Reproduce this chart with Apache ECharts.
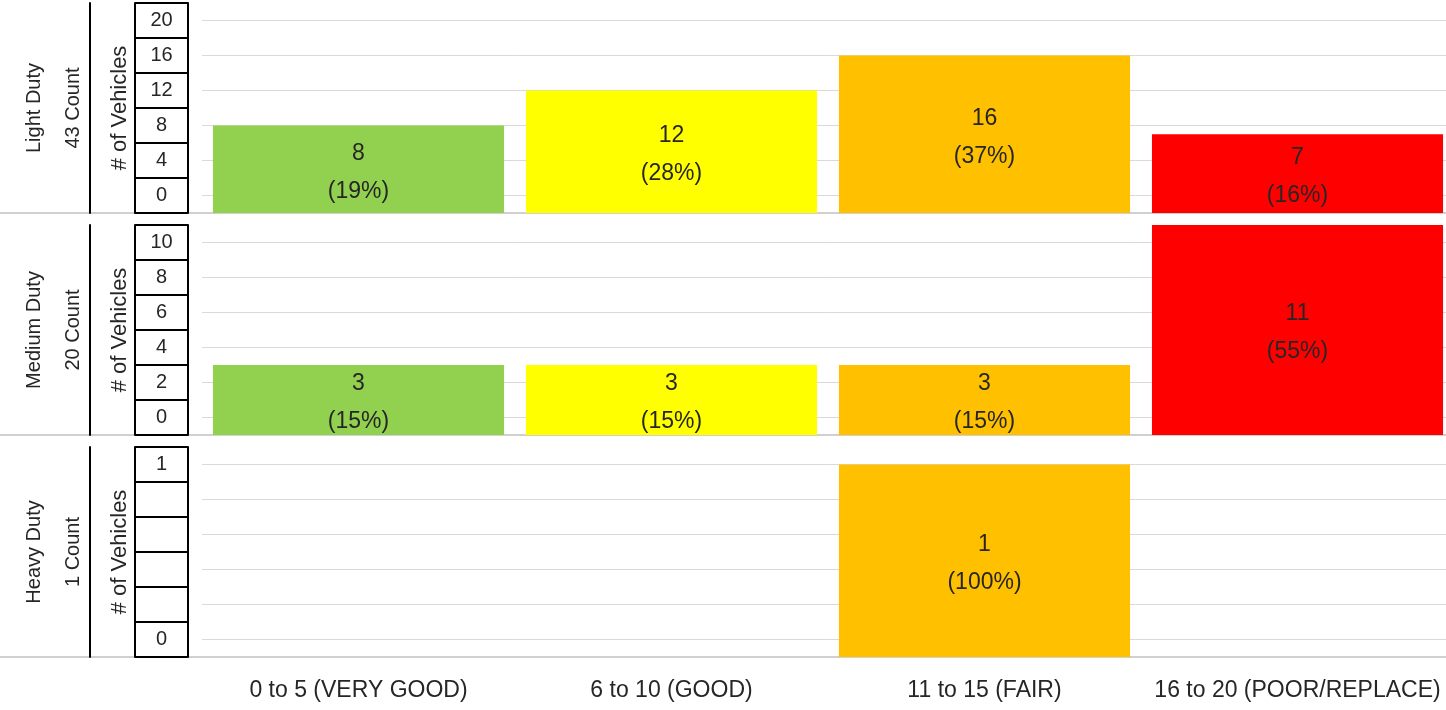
<!DOCTYPE html>
<html lang="en">

<head>
  <meta charset="UTF-8">
  <title>Vehicles by condition</title>
  <script src="https://cdn.jsdelivr.net/npm/echarts@6/dist/echarts.min.js"></script>
  <style>
    html, body { margin: 0; padding: 0; background: #fff; }
    #chart { width: 1446px; height: 710px; }
  </style>
</head>

<body>
  <div id="chart"></div>
  <script>
    // data
    var categories = ['0 to 5 (VERY GOOD)', '6 to 10 (GOOD)', '11 to 15 (FAIR)', '16 to 20 (POOR/REPLACE)'];
    var barColors = ['#92D050', '#FFFF00', '#FFC000', '#FF0000'];

    var panelNames = ['Light Duty', 'Medium Duty', 'Heavy Duty'];
    var panelTotals = [43, 20, 1];

    var lightCounts = [8, 12, 16, 7];
    var lightShares = [19, 28, 37, 16];
    var mediumCounts = [3, 3, 3, 11];
    var mediumShares = [15, 15, 15, 55];
    var heavyCounts = [null, null, 1, null];
    var heavyShares = [null, null, 100, null];

    var lightTicks = [0, 4, 8, 12, 16, 20];
    var lightTickLabels = ['0', '4', '8', '12', '16', '20'];
    var mediumTicks = [0, 2, 4, 6, 8, 10];
    var mediumTickLabels = ['0', '2', '4', '6', '8', '10'];
    var heavyTicks = [0, 0.2, 0.4, 0.6, 0.8, 1];
    var heavyTickLabels = ['0', '', '', '', '', '1'];

    // axis ranges (bars start at the bottom of each panel, below the 0 line)
    var lightRange = [-2, 22];
    var mediumRange = [-1, 11];
    var heavyRange = [-0.1, 1.1];

    var panels = [
      { counts: lightCounts, shares: lightShares, ticks: lightTicks, labels: lightTickLabels, range: lightRange },
      { counts: mediumCounts, shares: mediumShares, ticks: mediumTicks, labels: mediumTickLabels, range: mediumRange },
      { counts: heavyCounts, shares: heavyShares, ticks: heavyTicks, labels: heavyTickLabels, range: heavyRange }
    ];

    var FONT = 'Liberation Sans';
    var TEXT = '#262626';
    var GRID_LEFT = 202;
    var GRID_H = 210;
    var PANEL_STEP = 222;
    var BOX_W = 53;

    var chart = echarts.init(document.getElementById('chart'));

    var grids = [], xAxes = [], yAxes = [], series = [], lines = [];

    // cell borders of the tick-label column sit half a step around each tick
    function cellEdges(ticks) {
      var step = ticks[1] - ticks[0];
      var edges = ticks.map(function (t) { return t - step / 2; });
      edges.push(ticks[ticks.length - 1] + step / 2);
      return edges;
    }

    function renderBar(params, api) {
      var j = api.value(0);
      var v = api.value(1);
      var share = api.value(2);
      var topPt = api.coord([j, v]);
      var w = api.size([1, 0])[0] * 0.93;
      var cs = params.coordSys;
      var bottom = cs.y + cs.height;
      return {
        type: 'rect',
        shape: { x: topPt[0] - w / 2, y: topPt[1], width: w, height: bottom - topPt[1] },
        style: { fill: barColors[j] },
        textContent: {
          style: {
            text: v + '\n(' + share + '%)',
            fontSize: 23,
            lineHeight: 38,
            fontFamily: FONT,
            fill: TEXT,
            align: 'center',
            verticalAlign: 'middle'
          }
        },
        textConfig: { position: 'inside', offset: [0, 3] }
      };
    }

    panels.forEach(function (p, i) {
      var top = 3 + PANEL_STEP * i;
      grids.push({ left: GRID_LEFT, right: -8, top: top, height: GRID_H, outerBoundsMode: 'none', containLabel: false });

      xAxes.push({
        type: 'category',
        gridIndex: i,
        data: categories,
        axisLine: { show: false },
        axisTick: { show: false },
        axisLabel: {
          show: i === panels.length - 1,
          interval: 0,
          margin: 22,
          fontSize: 23,
          fontFamily: FONT,
          color: TEXT
        }
      });

      // tick labels + gridlines
      yAxes.push({
        type: 'value',
        gridIndex: i,
        min: p.range[0],
        max: p.range[1],
        axisLine: { show: false },
        axisTick: { show: false, customValues: p.ticks },
        axisLabel: {
          customValues: p.ticks,
          showMinLabel: true,
          showMaxLabel: true,
          align: 'center',
          margin: 14 + BOX_W / 2,
          fontSize: 20,
          fontFamily: FONT,
          color: TEXT,
          formatter: function (v) {
            var k = -1;
            p.ticks.forEach(function (t, n) { if (Math.abs(t - v) < 1e-6) k = n; });
            return k < 0 ? '' : p.labels[k];
          }
        },
        splitLine: { show: true, lineStyle: { color: '#d9d9d9', width: 1 } }
      });

      // right edge of the label column and its cell borders
      yAxes.push({
        type: 'value',
        gridIndex: i,
        position: 'left',
        offset: 14,
        min: p.range[0],
        max: p.range[1],
        axisLine: { show: true, onZero: false, lineStyle: { color: '#000', width: 2 } },
        axisTick: { show: true, length: BOX_W, customValues: cellEdges(p.ticks), lineStyle: { color: '#000', width: 2 } },
        axisLabel: { show: false },
        splitLine: { show: false }
      });

      // left edge of the label column + axis title
      yAxes.push({
        type: 'value',
        gridIndex: i,
        position: 'left',
        offset: 14 + BOX_W,
        min: p.range[0],
        max: p.range[1],
        axisLine: { show: true, onZero: false, lineStyle: { color: '#000', width: 2 } },
        axisTick: { show: false },
        axisLabel: { show: false },
        splitLine: { show: false },
        name: '# of Vehicles',
        nameLocation: 'middle',
        nameRotate: 90,
        nameGap: 4,
        nameTextStyle: { fontSize: 22, fontFamily: FONT, color: TEXT }
      });

      // panel title + black rule
      yAxes.push({
        type: 'value',
        gridIndex: i,
        position: 'left',
        offset: 112,
        min: p.range[0],
        max: p.range[1],
        axisLine: { show: true, onZero: false, lineStyle: { color: '#000', width: 2 } },
        axisTick: { show: false },
        axisLabel: { show: false },
        splitLine: { show: false },
        name: panelNames[i] + '\n' + panelTotals[i] + ' Count',
        nameLocation: 'middle',
        nameRotate: 90,
        nameGap: -3,
        nameTextStyle: { fontSize: 20, lineHeight: 39, fontFamily: FONT, color: TEXT }
      });

      var barData = [];
      p.counts.forEach(function (v, j) {
        if (v != null) barData.push([j, v, p.shares[j]]);
      });

      series.push({
        type: 'custom',
        xAxisIndex: i,
        yAxisIndex: 4 * i,
        encode: { x: 0, y: 1 },
        data: barData,
        renderItem: renderBar
      });

      lines.push({
        type: 'line',
        z: 0,
        shape: { x1: 0, y1: top + GRID_H, x2: 1446, y2: top + GRID_H },
        style: { stroke: '#d0d0d0', lineWidth: 2 }
      });
    });

    var option = {
      animation: false,
      backgroundColor: '#fff',
      grid: grids,
      xAxis: xAxes,
      yAxis: yAxes,
      series: series,
      graphic: lines
    };
    chart.setOption(option);
  </script>
</body>

</html>
